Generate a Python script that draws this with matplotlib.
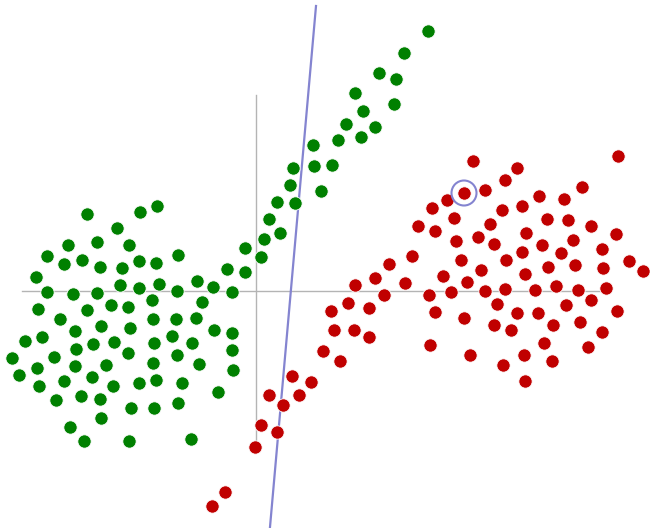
import matplotlib
matplotlib.use("Agg")
import matplotlib.pyplot as plt
import numpy as np
from matplotlib.patches import Circle

# green cluster (x, y)
green_x = [-1.69, -1.16, -0.99, -1.39, -1.88, -1.59, -1.27, -2.09, -1.92, -1.74,
           -1.56, -1.34, -1.17, -1.00, -0.78, -0.11, -0.29, -0.11, -2.20, -2.09,
           -1.83, -1.59, -1.36, -1.17, -0.97, -0.79, -0.59, -0.43, -0.24, -0.54,
           -1.04, -2.18, -1.69, -1.45, -1.28, -1.96, -1.03, -0.80, -0.60, -1.81,
           -1.55, -1.26, -0.42, -0.24, -2.31, -2.14, -1.80, -1.63, -1.42, -1.02,
           -0.84, -0.64, -0.24, -2.44, -2.02, -1.28, -0.79, -2.19, -1.81, -1.50,
           -1.03, -0.57, -0.23, -2.37, -1.92, -1.64, -2.17, -1.43, -1.17, -1.00,
           -0.74, -2.00, -1.75, -1.56, -1.25, -1.02, -0.78, -0.38, -1.55, -1.86,
           -1.72, -1.27, -0.65,
           1.72, 1.48, 1.23, 1.40, 0.99, 1.38, 1.07, 0.90, 1.19, 0.82,
           1.05, 0.57, 0.37, 0.58, 0.76, 0.34, 0.65, 0.21, 0.39, 0.13,
           0.24, 0.08, 0.05]
green_y = [0.77, 0.79, 0.85, 0.63, 0.46, 0.49, 0.46, 0.35, 0.27, 0.31,
           0.24, 0.23, 0.30, 0.28, 0.36, 0.43, 0.22, 0.19, 0.14, -0.01,
           -0.03, -0.02, 0.06, 0.03, 0.07, 0.00, 0.10, 0.04, -0.01, -0.11,
           -0.09, -0.18, -0.19, -0.14, -0.16, -0.28, -0.28, -0.28, -0.27, -0.40,
           -0.35, -0.37, -0.39, -0.42, -0.50, -0.46, -0.58, -0.53, -0.51, -0.52,
           -0.45, -0.52, -0.59, -0.67, -0.66, -0.62, -0.64, -0.77, -0.75, -0.74,
           -0.72, -0.73, -0.79, -0.84, -0.90, -0.86, -0.95, -0.95, -0.92, -0.89,
           -0.92, -1.09, -1.05, -1.08, -1.17, -1.17, -1.12, -1.01, -1.27, -1.36,
           -1.50, -1.50, -1.48,
           2.60, 2.38, 2.18, 2.12, 1.98, 1.87, 1.80, 1.67, 1.64, 1.51,
           1.54, 1.46, 1.23, 1.25, 1.26, 1.06, 1.00, 0.89, 0.88, 0.72,
           0.58, 0.52, 0.34]

# red cluster (x, y)
red_x = [2.17, 3.62, 2.61, 2.49, 2.08, 2.29, 1.91, 1.76, 3.26, 2.83,
         3.08, 2.46, 2.66, 1.98, 1.62, 1.79, 2.34, 2.91, 3.12, 3.35,
         3.60, 2.70, 2.22, 2.00, 2.38, 2.86, 3.17, 3.05, 2.66, 3.46,
         1.56, 2.05, 2.50, 3.19, 2.92, 3.47, 3.73, 3.87, 1.87, 2.25,
         2.69, 2.11, 1.49, 1.73, 1.95, 2.29, 2.49, 2.79, 3.00, 3.22,
         3.50, 3.35, 3.10, 2.41, 1.79, 2.61, 2.82, 3.61, 2.08, 2.38,
         2.55, 2.97, 3.24, 3.46, 1.74, 2.88, 3.32, 2.14, 2.68, 2.96,
         2.47, 2.69,
         1.33, 1.19, 0.99, 1.28, 0.92, 0.75, 1.13, 0.78, 0.98, 1.13,
         0.67, 0.84, 0.36, 0.55, 0.13, 0.43, 0.27, 0.05, 0.21, -0.01,
         -0.31, -0.44]
red_y = [1.30, 1.35, 1.23, 1.11, 0.98, 1.01, 0.91, 0.83, 1.04, 0.95,
         0.92, 0.81, 0.85, 0.73, 0.65, 0.60, 0.67, 0.72, 0.71, 0.65,
         0.57, 0.58, 0.54, 0.50, 0.47, 0.46, 0.51, 0.38, 0.39, 0.42,
         0.35, 0.31, 0.31, 0.26, 0.24, 0.23, 0.30, 0.20, 0.15, 0.21,
         0.17, 0.09, 0.08, -0.04, -0.01, 0.00, 0.02, 0.01, 0.05, 0.01,
         0.03, -0.09, -0.14, -0.13, -0.21, -0.22, -0.22, -0.20, -0.27, -0.34,
         -0.39, -0.34, -0.31, -0.41, -0.54, -0.52, -0.56, -0.64, -0.64, -0.70,
         -0.74, -0.90,
         0.27, 0.13, 0.06, -0.04, -0.12, -0.20, -0.17, -0.39, -0.39, -0.46,
         -0.60, -0.70, -0.85, -0.91, -1.04, -1.04, -1.14, -1.34, -1.41, -1.56,
         -2.01, -2.15]

# separating line end points and highlighted point
line_x = [0.60, 0.14]
line_y = [2.85, -2.36]
marked = (2.08, 0.98)

fig = plt.figure(figsize=(6.5, 5.28), dpi=100)
ax = fig.add_axes([0, 0, 1, 1])
ax.set_xlim(-2.56, 3.94)
ax.set_ylim(-2.37, 2.91)
ax.axis("off")

# axes through the origin
ax.plot([-2.34, 3.44], [0, 0], color="#b4b4b4", lw=1.0, zorder=1)
ax.plot([0, 0], [-1.49, 1.96], color="#b4b4b4", lw=1.0, zorder=1)

ax.plot(line_x, line_y, color="#8484d0", lw=1.6, zorder=2)

ax.scatter(green_x, green_y, s=92, color="#008000", edgecolors="white",
           linewidths=0.6, zorder=3)
ax.scatter(red_x, red_y, s=92, color="#c00000", edgecolors="white",
           linewidths=0.6, zorder=3)

ax.add_patch(Circle(marked, 0.125, fill=False, edgecolor="#8484d0", lw=1.5, zorder=4))

fig.savefig("out.png", dpi=100)
